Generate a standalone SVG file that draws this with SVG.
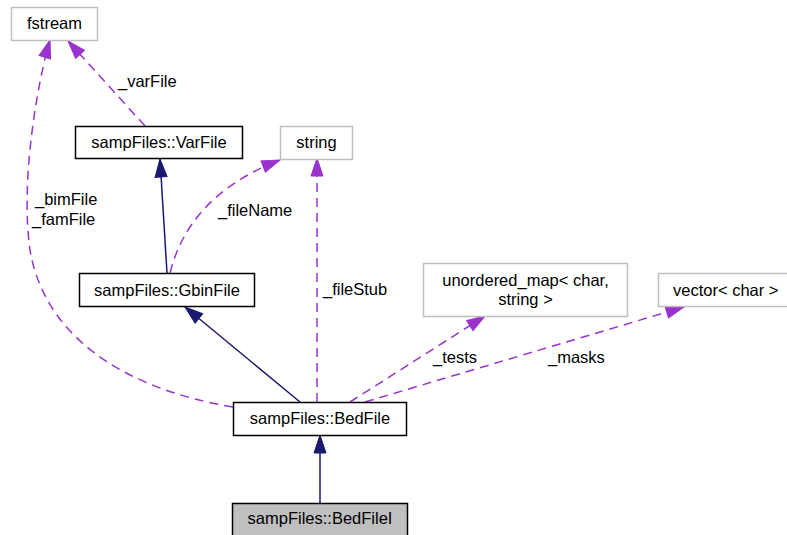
<svg xmlns="http://www.w3.org/2000/svg" width="787" height="535" viewBox="0 0 787 535">
<style>
text{font-family:"Liberation Sans",Arial,Helvetica,sans-serif;font-size:16.5px;fill:#000}
.c{text-anchor:middle}
.n{fill:#fff;stroke:#000;stroke-width:1.5}
.g{fill:#fff;stroke:#bfbfbf;stroke-width:1.5}
.s{fill:#bfbfbf;stroke:#000;stroke-width:1.5}
.inh{fill:none;stroke:#191970;stroke-width:1.5}
.use{fill:none;stroke:#9a32cd;stroke-width:1.5;stroke-dasharray:9,6}
</style>
<defs>
<marker id="ah" viewBox="-20 -8 21 16" refX="0" refY="0" markerWidth="21" markerHeight="16" markerUnits="userSpaceOnUse" orient="auto">
<polygon points="0,0 -18,-6 -18,6" fill="#191970" stroke="#191970" stroke-width="1"/>
</marker>
<marker id="ap" viewBox="-20 -8 21 16" refX="0" refY="0" markerWidth="21" markerHeight="16" markerUnits="userSpaceOnUse" orient="auto">
<polygon points="0,0 -18,-6 -18,6" fill="#9a32cd" stroke="#9a32cd" stroke-width="1"/>
</marker>
</defs>
<g id="edges">
<path class="use" d="M145,126 L68,41" marker-end="url(#ap)"/>
<text x="118" y="87">_varFile</text>
<path class="inh" d="M167,273 L160,159" marker-end="url(#ah)"/>
<path class="use" d="M170,273 C182,225 215,185 280,160" marker-end="url(#ap)"/>
<text x="218" y="216">_fileName</text>
<path class="use" d="M317,402 L317,158" marker-end="url(#ap)"/>
<text x="323" y="295">_fileStub</text>
<path class="inh" d="M300,402 L185,307" marker-end="url(#ah)"/>
<path class="use" d="M350,402 L485,316" marker-end="url(#ap)"/>
<text x="433" y="363">_tests</text>
<path class="use" d="M365,402 L684,307" marker-end="url(#ap)"/>
<text x="548" y="363">_masks</text>
<path class="use" d="M233,407 C130,390 45,340 30,250 C20,180 38,80 50,40" marker-end="url(#ap)"/>
<text x="35" y="205">_bimFile</text>
<text x="32" y="225">_famFile</text>
<path class="inh" d="M320,503 L320,435" marker-end="url(#ah)"/>
</g>
<g id="fstream"><rect class="g" x="11.5" y="7.5" width="86" height="33"/><text class="c" x="54.5" y="29">fstream</text></g>
<g id="VarFile"><rect class="n" x="75.5" y="126.5" width="167" height="32"/><text class="c" x="159" y="148">sampFiles::VarFile</text></g>
<g id="string"><rect class="g" x="280.5" y="126.5" width="72" height="33"/><text class="c" x="316.5" y="148">string</text></g>
<g id="GbinFile"><rect class="n" x="79.5" y="273.5" width="175" height="33"/><text class="c" x="167" y="296">sampFiles::GbinFile</text></g>
<g id="unordered_map"><rect class="g" x="423.5" y="263.5" width="204" height="53"/><text class="c" x="525.5" y="286">unordered_map&lt; char,</text><text class="c" x="525.5" y="305">string &gt;</text></g>
<g id="vector"><rect class="g" x="658.5" y="273.5" width="140" height="33"/><text x="673" y="296">vector&lt; char &gt;</text></g>
<g id="BedFile"><rect class="n" x="233.5" y="402.5" width="173" height="33"/><text class="c" x="320" y="424">sampFiles::BedFile</text></g>
<g id="BedFileI"><rect class="s" x="232.5" y="503.5" width="175" height="33"/><text class="c" x="320" y="524">sampFiles::BedFileI</text></g>
</svg>
